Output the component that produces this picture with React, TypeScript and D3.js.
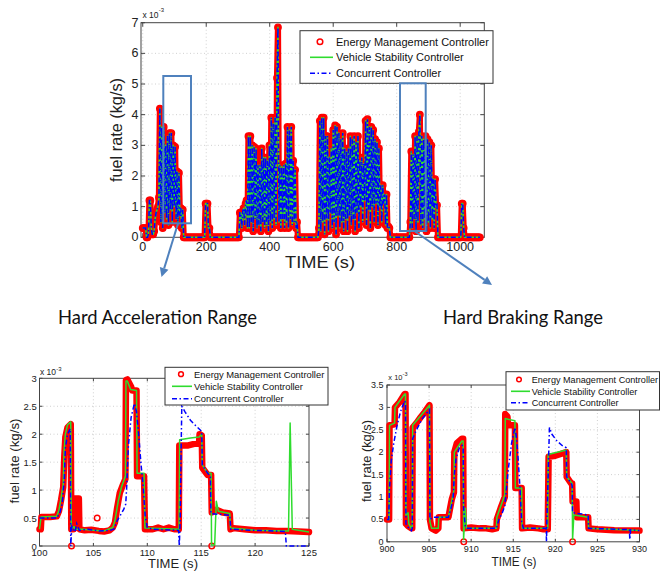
import React from "react";
import * as d3 from "d3";

type Pt = [number, number];

// ---------- shared labels ----------
const seriesNames = ["Energy Management Controller", "Vehicle Stability Controller", "Concurrent Controller"];
const RED = "#ff0000";
const GREEN = "#2fdc2f";
const BLUE = "#0000ff";
const ANNOT = "#4F81BD";

// ---------- top overview (fuel rate x1e-3 kg/s, sampled every 3 s) ----------
const topSampleStep = 3;
const topFuelRate = [
  0.3, 0.3, 0.3, 0.3, 0, 0, 0.1, 1.2, 1.2, 0.3,
  0.1, 0.1, 0.2, 0.6, 0.8, 0.9, 1.0, 1.3, 4.2, 0.5,
  3.6, 0.3, 3.6, 0.8, 3.0, 0.6, 3.3, 0.4, 3.4, 0.9,
  3.4, 0.5, 3.0, 1.0, 2.95, 0.6, 2.15, 0.4, 2.1, 0.7,
  0.95, 0.3, 0.9, 0, 0, 0, 0, 0, 0, 0,
  0, 0, 0, 0, 0, 0, 0, 0, 0, 0,
  0, 0, 0, 0, 0, 0, 1.1, 1.1, 1.1, 0.3,
  0.3, 0, 0, 0, 0, 0, 0, 0, 0, 0,
  0, 0, 0, 0, 0, 0, 0, 0, 0, 0,
  0, 0, 0, 0, 0, 0, 0, 0, 0, 0,
  0, 0, 0.8, 0.8, 0.3, 0.85, 0.95, 0.4, 1.1, 1.2,
  0.3, 3.3, 0.3, 3.3, 0.5, 3.0, 0.2, 2.95, 0.6, 2.9,
  0.3, 2.35, 0.4, 2.35, 0.2, 2.9, 0.5, 2.6, 0.3, 2.6,
  0.4, 2.5, 0.2, 3.0, 0.5, 3.9, 0.3, 3.7, 0.6, 3.9,
  0.4, 5.2, 6.85, 0.5, 2.35, 0.3, 2.3, 0.6, 2.35, 0.3,
  2.4, 0.5, 3.6, 0.3, 3.5, 0.6, 3.6, 0.4, 2.5, 0.5,
  2.2, 0.3, 0.5, 0, 0, 0, 0, 0, 0, 0,
  0, 0, 0, 0, 0, 0, 0, 0, 0, 0,
  0, 0, 0, 0, 0, 0.3, 3.8, 0.2, 3.9, 0.5,
  3.9, 0.1, 3.3, 0.6, 3.3, 0.2, 2.6, 0.8, 2.9, 0.3,
  3.5, 0.5, 3.65, 0.1, 3.6, 0.7, 3.4, 0.3, 3.2, 0.5,
  3.4, 0.2, 2.9, 0.6, 2.8, 0.2, 2.9, 0.7, 3.3, 0.4,
  3.2, 0.6, 3.3, 0.2, 3.1, 0.8, 3.3, 0.3, 2.5, 1.0,
  2.6, 0.5, 2.4, 1.2, 3.8, 0.4, 3.85, 0.9, 3.6, 0.3,
  3.6, 1.0, 3.5, 0.5, 3.2, 1.1, 3.1, 0.4, 2.9, 1.0,
  1.7, 0.5, 1.7, 1.1, 1.4, 0.4, 1.4, 0.3, 0.35, 0.3,
  0, 0, 0, 0, 0, 0, 0, 0, 0, 0,
  0, 0, 0, 0, 0, 0, 0, 0, 0, 0,
  0, 0.5, 2.8, 0.3, 2.7, 0.6, 3.3, 0.2, 3.3, 0.5,
  3.45, 4.0, 0.4, 3.3, 0.3, 3.2, 0.6, 3.3, 0.2, 3.2,
  0.5, 3.1, 0.3, 3.0, 0.6, 1.9, 0.3, 1.9, 1.0, 1.05,
  0, 0, 0, 0, 0, 0, 0, 0, 0, 0,
  0, 0, 0, 0, 0, 0, 0, 0, 0, 0,
  0, 0, 0, 0, 0, 1.1, 1.1, 0.3, 0, 0,
  0, 0, 0, 0, 0, 0, 0, 0, 0, 0,
  0, 0, 0, 0, 0,
];
// the three controllers overlap at this scale
const topEMC = topFuelRate;
const topVSC = topFuelRate;
const topCC = topFuelRate;
const topXTicks = [0, 200, 400, 600, 800, 1000];
const topYTicks = [0, 1, 2, 3, 4, 5, 6, 7];

// ---------- hard acceleration range (100-125 s) ----------
const accelXTicks = [100, 105, 110, 115, 120, 125];
const accelYTicks = [0, 0.5, 1, 1.5, 2, 2.5, 3];
const accelEMC: Pt[] = [
  [100, 0.3], [100.12, 0.3], [100.18, 0.52], [101.0, 0.52], [101.6, 0.53], [101.8, 0.62], [102.0, 0.82],
  [102.2, 1.05], [102.3, 1.6], [102.4, 1.95], [102.6, 2.12], [102.9, 2.18], [102.95, 0.3], [103.15, 0.3],
  [103.2, 0.85], [103.65, 0.85], [103.7, 0.3], [104.2, 0.28], [104.8, 0.29], [105.5, 0.27], [106.0, 0.26],
  [106.5, 0.28], [106.8, 0.33], [107.0, 0.42], [107.2, 0.68], [107.45, 0.95], [107.75, 1.1], [107.97, 1.2],
  [108.02, 2.97], [108.15, 2.98], [108.5, 2.85], [108.6, 2.78], [109.0, 2.78], [109.05, 1.25], [109.7, 1.25],
  [109.78, 0.3], [110.5, 0.3], [111.0, 0.33], [111.5, 0.3], [112.0, 0.33], [112.5, 0.3], [112.92, 0.3],
  [112.97, 1.8], [113.8, 1.8], [114.8, 1.85], [114.85, 2.0], [115.05, 1.98], [115.1, 1.4], [115.6, 1.27],
  [115.92, 1.27], [115.98, 0.6], [116.4, 0.65], [117.0, 0.6], [117.65, 0.58], [117.72, 0.3], [118.0, 0.32],
  [119, 0.3], [120, 0.28], [121, 0.28], [122, 0.27], [123, 0.27], [124, 0.26], [125, 0.25],
];
const accelEMCIsolated: Pt[] = [[102.97, 0], [105.35, 0.5], [115.98, 0]];
const accelVSC: Pt[] = [
  [100, 0.3], [100.15, 0.52], [101.6, 0.53], [101.8, 0.64], [102.0, 0.86], [102.2, 1.1], [102.28, 1.7],
  [102.4, 2.0], [102.6, 2.17], [102.9, 2.22], [102.95, 0.3], [103.2, 0.35], [103.3, 0.3], [104, 0.3],
  [105, 0.28], [106, 0.27], [106.8, 0.33], [107.0, 0.46], [107.3, 0.8], [107.6, 1.05], [107.97, 1.25],
  [108.02, 2.95], [108.15, 2.95], [108.45, 2.8], [109.0, 2.78], [109.05, 1.3], [109.7, 1.3], [109.78, 0.32],
  [112.95, 0.3], [113.0, 1.9], [114.0, 1.93], [114.8, 1.95], [115.05, 2.0], [115.1, 1.45], [115.6, 1.3],
  [115.92, 1.3], [115.96, 0.02], [116.25, 0.02], [116.4, 0.8], [116.6, 0.62], [117.65, 0.58], [117.72, 0.32],
  [120, 0.28], [123.1, 0.27], [123.25, 2.2], [123.45, 0.3], [125, 0.25],
];
const accelCC: Pt[] = [
  [100, 0.5], [101.6, 0.5], [101.9, 0.6], [102.1, 0.75], [102.3, 1.2], [102.4, 1.75], [102.6, 2.0],
  [102.85, 2.1], [102.9, 0], [103.0, 0.35], [103.3, 0.25], [103.45, 0.4], [103.7, 0.28], [104.5, 0.3],
  [105.5, 0.27], [106.5, 0.28], [106.9, 0.3], [107.2, 0.45], [107.5, 0.55], [107.8, 0.65], [108.0, 0.75],
  [108.1, 1.1], [108.25, 1.8], [108.5, 2.3], [108.8, 2.55], [109.0, 2.4], [109.2, 2.0], [109.4, 1.5],
  [109.6, 1.1], [109.8, 0.55], [110.0, 0.33], [110.5, 0.3], [112.9, 0.28], [112.97, 0], [113.05, 0.5],
  [113.12, 1.5], [113.2, 2.5], [113.5, 2.4], [114.0, 2.25], [114.5, 2.15], [115.05, 2.05], [115.1, 1.45],
  [115.6, 1.3], [115.85, 1.25], [115.9, 0.58], [117.65, 0.55], [117.75, 0.3], [120, 0.28], [122.8, 0.26],
  [122.9, 0], [125, 0],
];

// ---------- hard braking range (900-930 s) ----------
const brakeXTicks = [900, 905, 910, 915, 920, 925, 930];
const brakeYTicks = [0, 0.5, 1, 1.5, 2, 2.5, 3, 3.5];
const brakeEMC: Pt[] = [
  [900, 0.5], [900.25, 0.5], [900.3, 2.6], [900.9, 2.62], [900.95, 3.0], [901.5, 3.12], [902.1, 3.3],
  [902.2, 3.3], [902.25, 0.4], [902.5, 0.35], [902.9, 0.3], [903.0, 0.3], [903.05, 2.55], [903.5, 2.65],
  [904.0, 2.78], [904.5, 2.9], [905.05, 3.05], [905.1, 0.5], [905.3, 0.3], [905.8, 0.25], [906.1, 0.3],
  [906.15, 0.55], [907.3, 0.55], [907.5, 0.75], [907.7, 0.95], [907.95, 1.1], [908.0, 2.0], [908.3, 2.2],
  [908.9, 2.3], [909.05, 2.3], [909.1, 0.3], [910, 0.32], [911, 0.3], [911.8, 0.3], [912.5, 0.28],
  [913.0, 0.3], [913.05, 0.5], [913.5, 0.75], [914.0, 1.0], [914.05, 2.85], [914.3, 2.8], [914.4, 2.6],
  [915.2, 2.6], [915.25, 1.2], [916.0, 1.2], [916.05, 0.3], [917, 0.32], [918, 0.3], [918.6, 0.28],
  [919.1, 0.28], [919.2, 1.9], [920.0, 1.92], [921.3, 2.0], [921.35, 1.45], [921.9, 1.3], [922.0, 1.3],
  [922.05, 0.9], [922.5, 0.9], [922.55, 0.55], [923.9, 0.55], [923.95, 0.3], [925, 0.28], [927, 0.26],
  [930, 0.25],
];
const brakeEMCIsolated: Pt[] = [[909.12, 0], [922.05, 0]];
const brakeVSC: Pt[] = [
  [900, 0.5], [900.25, 0.5], [900.3, 2.6], [900.9, 2.65], [900.95, 3.0], [902.1, 3.3], [902.2, 3.3],
  [902.25, 0.6], [902.5, 0.65], [902.6, 0.4], [902.9, 0.3], [903.0, 0.35], [903.05, 2.6], [905.05, 3.05],
  [905.1, 0.45], [905.3, 0.3], [906.1, 0.3], [906.15, 0.55], [907.3, 0.55], [907.95, 1.15], [908.0, 2.0],
  [908.9, 2.25], [909.05, 2.25], [909.1, 0.05], [909.3, 0.75], [909.45, 0.3], [913.0, 0.3], [913.05, 0.55],
  [914.0, 1.05], [914.05, 2.75], [915.2, 2.7], [915.25, 1.2], [916.0, 1.2], [916.05, 0.3], [919.1, 0.3],
  [919.15, 1.95], [921.3, 2.05], [921.35, 1.45], [922.0, 1.3], [922.05, 0.05], [922.2, 0.6], [923.9, 0.55],
  [923.95, 0.3], [930, 0.25],
];
const brakeCC: Pt[] = [
  [900, 0.5], [900.2, 0.5], [900.3, 1.2], [900.5, 1.8], [900.8, 2.2], [901.2, 2.6], [901.6, 2.9],
  [902.1, 3.15], [902.2, 3.1], [902.25, 0.4], [902.6, 0.3], [902.9, 0.25], [903.0, 0.3], [903.05, 2.3],
  [903.5, 2.5], [904.2, 2.75], [905.05, 2.95], [905.1, 0.5], [905.5, 0.55], [907.3, 0.55], [907.6, 0.75],
  [907.85, 0.95], [908.0, 1.5], [908.2, 1.85], [908.6, 2.1], [908.95, 2.15], [909.05, 2.1], [909.1, 0.75],
  [909.3, 0.35], [909.5, 0.3], [913.0, 0.3], [913.3, 0.5], [913.7, 0.65], [914.0, 0.8], [914.4, 1.6],
  [914.8, 2.2], [915.2, 2.55], [915.4, 2.3], [915.6, 1.8], [915.8, 1.2], [916.0, 0.45], [916.2, 0.3],
  [918.9, 0.3], [918.95, 0], [919.0, 0.5], [919.3, 2.55], [919.6, 2.4], [920.2, 2.25], [920.8, 2.15],
  [921.3, 2.1], [921.35, 1.45], [921.9, 1.3], [922.0, 1.25], [922.05, 0.65], [923.9, 0.6], [923.95, 0.3],
  [928.8, 0.27], [928.85, 0.05], [928.95, 0.27], [930, 0.25],
];

const FONT = "'Liberation Sans', Arial, Helvetica, sans-serif";

interface PanelProps {
  left: number; right: number; top: number; bottom: number;
  xDomain: [number, number]; yDomain: [number, number];
  xTicks: number[]; yTicks: number[];
  tickFont: number; tickLen: number; xTickBaseline: number; yTickRight: number;
  emc: Pt[]; emcMarkers: Pt[]; vsc: Pt[]; cc: Pt[];
  redWidth: number; markerR: number; lineW: number; dash: string;
  exp: { x: number; y: number; font: number; supY: number; supFont: number };
  xLabel: { cx: number; baseline: number; font: number; len: number };
  yLabel: { cx: number; cy: number; font: number; len: number };
}

function Panel(p: PanelProps) {
  const x = d3.scaleLinear().domain(p.xDomain).range([p.left, p.right]);
  const y = d3.scaleLinear().domain(p.yDomain).range([p.bottom, p.top]);
  const line = d3.line<Pt>().x((d) => x(d[0])).y((d) => y(d[1]));
  const grid = "#c4c4c4";
  return (
    <g fontFamily={FONT}>
      <rect x={p.left} y={p.top} width={p.right - p.left} height={p.bottom - p.top} fill="#fff" />
      {p.xTicks.filter((t) => x(t) > p.left + 1 && x(t) < p.right - 1).map((t) => (
        <line key={"gx" + t} x1={x(t)} x2={x(t)} y1={p.top} y2={p.bottom} stroke={grid} strokeWidth={0.8} strokeDasharray="1,2.5" />
      ))}
      {p.yTicks.filter((t) => y(t) < p.bottom - 1 && y(t) > p.top + 1).map((t) => (
        <line key={"gy" + t} x1={p.left} x2={p.right} y1={y(t)} y2={y(t)} stroke={grid} strokeWidth={0.8} strokeDasharray="1,2.5" />
      ))}
      <rect x={p.left} y={p.top} width={p.right - p.left} height={p.bottom - p.top} fill="none" stroke="#444" strokeWidth={1} />
      {p.xTicks.map((t) => (
        <g key={"tx" + t}>
          <line x1={x(t)} x2={x(t)} y1={p.bottom} y2={p.bottom - p.tickLen} stroke="#444" />
          <line x1={x(t)} x2={x(t)} y1={p.top} y2={p.top + p.tickLen} stroke="#444" />
          <text x={x(t)} y={p.xTickBaseline} fontSize={p.tickFont} textAnchor="middle" fill="#222">{String(t)}</text>
        </g>
      ))}
      {p.yTicks.map((t) => (
        <g key={"ty" + t}>
          <line x1={p.left} x2={p.left + p.tickLen} y1={y(t)} y2={y(t)} stroke="#444" />
          <line x1={p.right} x2={p.right - p.tickLen} y1={y(t)} y2={y(t)} stroke="#444" />
          <text x={p.yTickRight} y={y(t)} fontSize={p.tickFont} textAnchor="end" dominantBaseline="central" fill="#222">{String(t)}</text>
        </g>
      ))}
      {/* data */}
      <path d={line(p.emc) || ""} fill="none" stroke={RED} strokeWidth={p.redWidth} strokeLinejoin="round" strokeLinecap="round" />
      {p.emcMarkers.map((d, i) => (
        <circle key={"m" + i} cx={x(d[0])} cy={y(d[1])} r={p.markerR} fill="none" stroke={RED} strokeWidth={1.4} />
      ))}
      <path d={line(p.vsc) || ""} fill="none" stroke={GREEN} strokeWidth={p.lineW} strokeLinejoin="round" />
      <path d={line(p.cc) || ""} fill="none" stroke={BLUE} strokeWidth={p.lineW} strokeDasharray={p.dash} />
      {/* labels */}
      <text x={p.exp.x} y={p.exp.y} fontSize={p.exp.font} fill="#222">x 10</text>
      <text x={p.exp.x + p.exp.font * 1.9} y={p.exp.supY} fontSize={p.exp.supFont} fill="#222">-3</text>
      <text x={p.xLabel.cx} y={p.xLabel.baseline} fontSize={p.xLabel.font} textAnchor="middle" fill="#222"
        textLength={p.xLabel.len} lengthAdjust="spacingAndGlyphs">TIME (s)</text>
      <text transform={`translate(${p.yLabel.cx},${p.yLabel.cy}) rotate(-90)`} fontSize={p.yLabel.font} textAnchor="middle"
        dominantBaseline="central" fill="#222" textLength={p.yLabel.len} lengthAdjust="spacingAndGlyphs">fuel rate (kg/s)</text>
    </g>
  );
}

interface LegendProps {
  box: [number, number, number, number]; rows: number[]; lineX: [number, number];
  markerX: number; textX: number; font: number; markerR: number; dy: number; dash: string;
}

function Legend(l: LegendProps) {
  const [x0, y0, x1, y1] = l.box;
  return (
    <g fontFamily={FONT}>
      <rect x={x0} y={y0} width={x1 - x0} height={y1 - y0} fill="#fff" stroke="#333" strokeWidth={1} />
      <circle cx={l.markerX} cy={l.rows[0]} r={l.markerR} fill="none" stroke={RED} strokeWidth={1.5} />
      <line x1={l.lineX[0]} x2={l.lineX[1]} y1={l.rows[1]} y2={l.rows[1]} stroke={GREEN} strokeWidth={1.6} />
      <line x1={l.lineX[0]} x2={l.lineX[1]} y1={l.rows[2]} y2={l.rows[2]} stroke={BLUE} strokeWidth={1.5} strokeDasharray={l.dash} />
      {seriesNames.map((n, i) => (
        <text key={n} x={l.textX} y={l.rows[i] + l.dy} fontSize={l.font} fill="#111">{n}</text>
      ))}
    </g>
  );
}

function Arrow({ x1, y1, x2, y2 }: { x1: number; y1: number; x2: number; y2: number }) {
  const ang = Math.atan2(y2 - y1, x2 - x1);
  const len = 9, half = 4.5;
  const bx = x2 - len * Math.cos(ang), by = y2 - len * Math.sin(ang);
  const px = -Math.sin(ang) * half, py = Math.cos(ang) * half;
  return (
    <g>
      <line x1={x1} y1={y1} x2={bx} y2={by} stroke={ANNOT} strokeWidth={2} />
      <polygon points={`${x2},${y2} ${bx + px},${by + py} ${bx - px},${by - py}`} fill={ANNOT} />
    </g>
  );
}

export default function App() {
  const topPts: Pt[] = topEMC.map((v, i) => [i * topSampleStep, v]);
  const topVscPts: Pt[] = topVSC.map((v, i) => [i * topSampleStep, v]);
  const topCcPts: Pt[] = topCC.map((v, i) => [i * topSampleStep, v]);
  const dash = "5,2.5,1.5,2.5";
  return (
    <svg width={660} height={575} viewBox="0 0 660 575" style={{ position: "absolute", left: 0, top: 0, background: "#fff" }}>
      <rect width={660} height={575} fill="#fff" />
      <Panel
        left={141} right={484.3} top={22.7} bottom={237.3}
        xDomain={[-5.5, 1076]} yDomain={[0, 7]}
        xTicks={topXTicks} yTicks={topYTicks}
        tickFont={12.5} tickLen={4} xTickBaseline={251} yTickRight={138.5}
        emc={topPts} emcMarkers={topPts} vsc={topVscPts} cc={topCcPts}
        redWidth={6.2} markerR={3.2} lineW={1.5} dash={dash}
        exp={{ x: 142.5, y: 18.3, font: 8.5, supY: 11.8, supFont: 6 }}
        xLabel={{ cx: 320, baseline: 268, font: 17, len: 70 }}
        yLabel={{ cx: 116, cy: 130, font: 16.3, len: 104 }}
      />
      <Legend box={[300, 30.7, 493, 83.3]} rows={[41.7, 57.3, 73.3]} lineX={[310, 333]} markerX={320}
        textX={336} font={11} markerR={2.8} dy={4} dash={dash} />

      {/* annotation boxes and arrows */}
      <rect x={163.3} y={76} width={27.7} height={147.3} fill="none" stroke={ANNOT} strokeWidth={2} />
      <rect x={400} y={83.3} width={25.7} height={147.7} fill="none" stroke={ANNOT} strokeWidth={2} />
      <Arrow x1={178} y1={223.5} x2={161.5} y2={277} />
      <Arrow x1={415} y1={231.5} x2={492} y2={285} />
      <text x={58} y={324} fontFamily="Lato, 'Open Sans', sans-serif" fontSize={19} fill="#111"
        textLength={199} lengthAdjust="spacingAndGlyphs">Hard Acceleration Range</text>
      <text x={443} y={324} fontFamily="Lato, 'Open Sans', sans-serif" fontSize={19} fill="#111"
        textLength={160} lengthAdjust="spacingAndGlyphs">Hard Braking Range</text>

      <Panel
        left={39.5} right={309} top={378.3} bottom={546}
        xDomain={[100, 125]} yDomain={[0, 3]}
        xTicks={accelXTicks} yTicks={accelYTicks}
        tickFont={9.5} tickLen={3} xTickBaseline={555.5} yTickRight={36.7}
        emc={accelEMC} emcMarkers={accelEMCIsolated} vsc={accelVSC} cc={accelCC}
        redWidth={6.5} markerR={2.8} lineW={1.5} dash={dash}
        exp={{ x: 40, y: 375, font: 8.5, supY: 370.5, supFont: 6 }}
        xLabel={{ cx: 173, baseline: 568, font: 12.5, len: 50 }}
        yLabel={{ cx: 14, cy: 461, font: 13.3, len: 85 }}
      />
      <Legend box={[165, 367.3, 328, 405]} rows={[374.2, 386.3, 398.8]} lineX={[172, 192]} markerX={181}
        textX={194} font={9.4} markerR={2.4} dy={3.3} dash={dash} />

      <Panel
        left={387} right={639.5} top={385} bottom={541.8}
        xDomain={[900, 930]} yDomain={[0, 3.5]}
        xTicks={brakeXTicks} yTicks={brakeYTicks}
        tickFont={9} tickLen={3} xTickBaseline={552} yTickRight={383.5}
        emc={brakeEMC} emcMarkers={brakeEMCIsolated} vsc={brakeVSC} cc={brakeCC}
        redWidth={6.5} markerR={2.8} lineW={1.5} dash={dash}
        exp={{ x: 388.3, y: 380, font: 7.5, supY: 375.5, supFont: 5.5 }}
        xLabel={{ cx: 514, baseline: 565.5, font: 12, len: 45 }}
        yLabel={{ cx: 366, cy: 461, font: 12.8, len: 82 }}
      />
      <Legend box={[506, 371.7, 659.5, 410]} rows={[379.5, 391.3, 402.7]} lineX={[511, 530]} markerX={519}
        textX={531.7} font={9.1} markerR={2.3} dy={3.2} dash={dash} />
    </svg>
  );
}
